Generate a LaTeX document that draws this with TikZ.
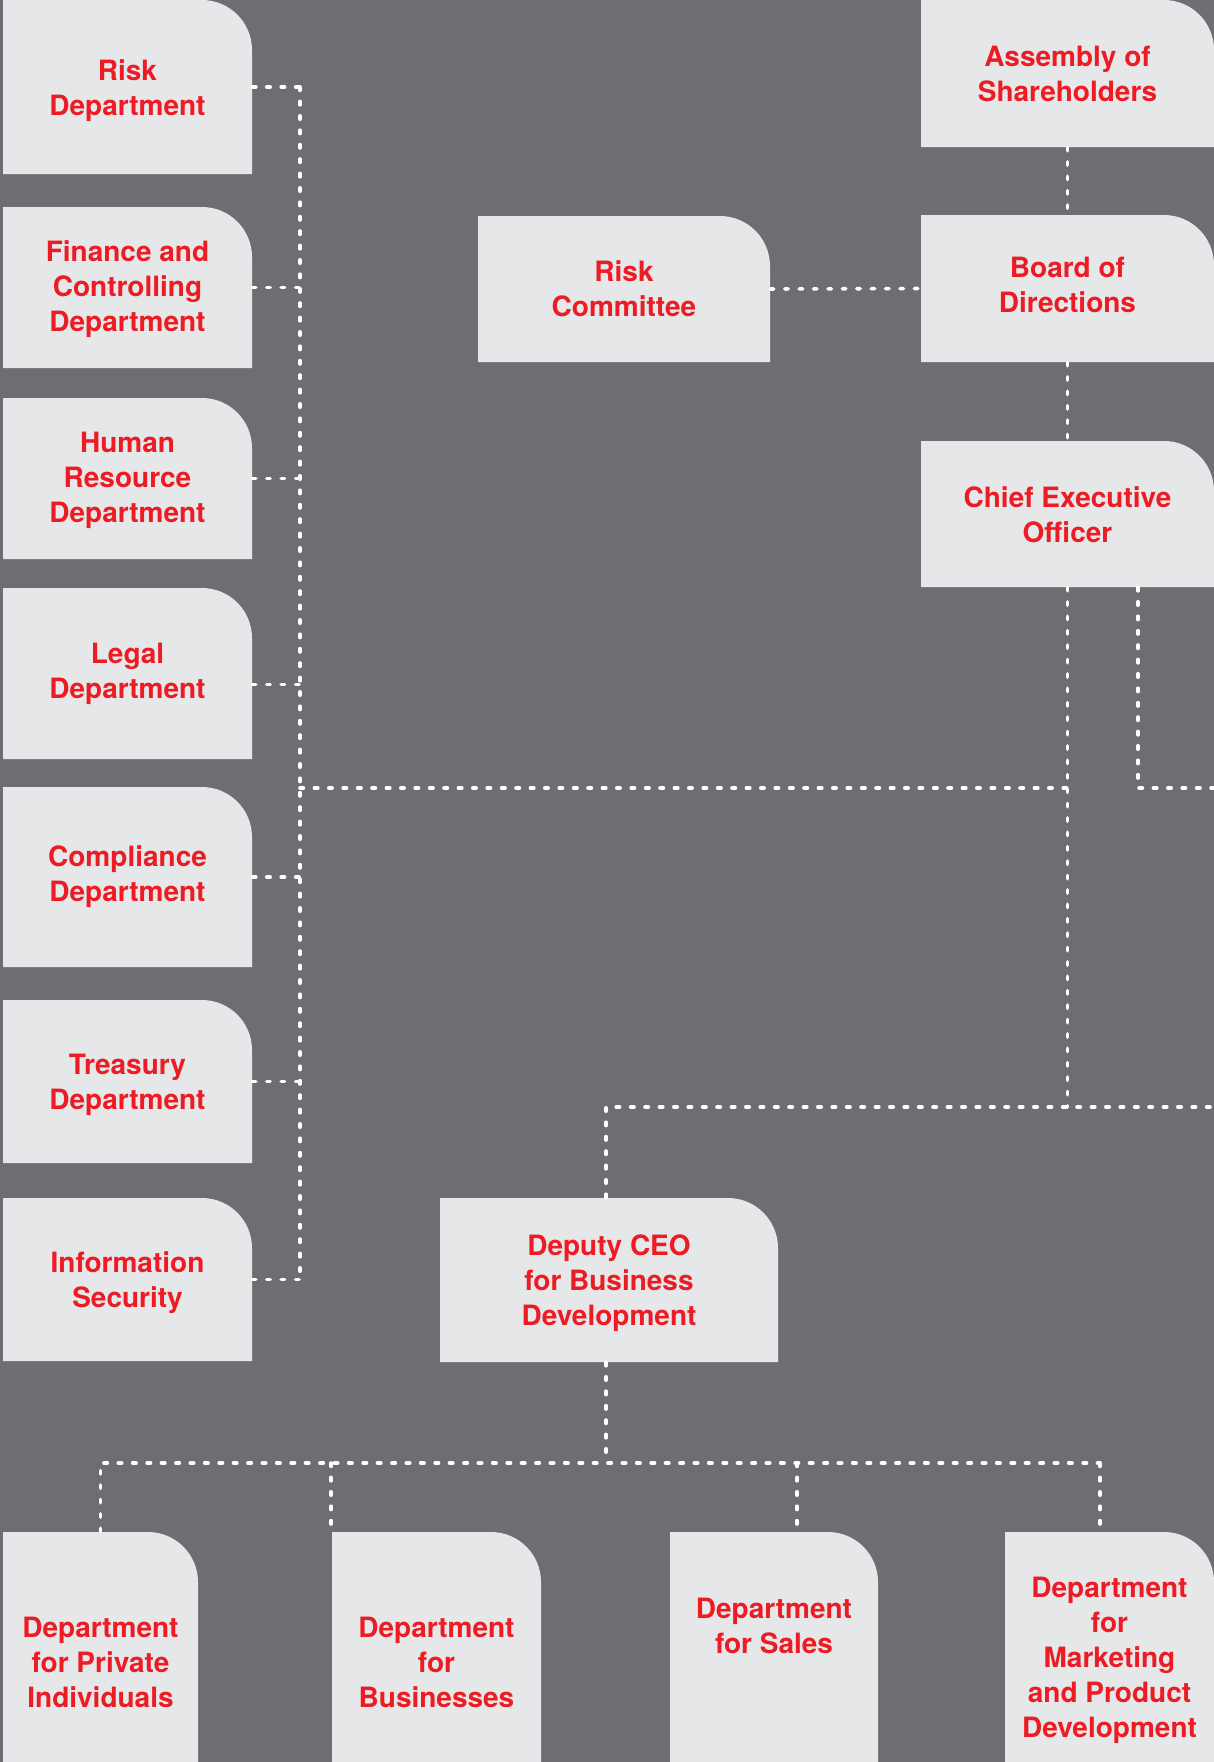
\documentclass[tikz,border=0pt]{standalone}
\usepackage{fontspec}
\setmainfont{TeX Gyre Heros}

\definecolor{bggray}{HTML}{6D6E71}
\definecolor{boxgray}{HTML}{E6E7E8}
\definecolor{deptred}{HTML}{ED1C24}
\newcommand\deptfont{\fontsize{14}{17.5}\selectfont\bfseries}

\begin{document}
\begin{tikzpicture}[x=0.5pt,y=-0.5pt,
  area/.style={rectangle, inner sep=0pt},
  orgtext/.style={text=deptred, font=\deptfont, align=center, inner sep=0pt},
  link/.style={draw=white, line width=1.8pt, line cap=round,
    dash pattern=on 1.7pt off 5.5pt}]

  \newcommand\orgbox[7][0pt]{%
    \fill[boxgray] (#3,#4) -- ({#5-50},#4)
      arc[start angle=90,end angle=0,radius=25pt] -- (#5,#6) -- (#3,#6) -- cycle;
    \pgfmathsetmacro\bw{(#5-#3)/2}
    \pgfmathsetmacro\bh{(#6-#4)/2}
    \node[area, minimum width=\bw pt, minimum height=\bh pt]
      (#2) at ({(#3+#5)/2},{(#4+#6)/2}) {};
    \node[orgtext] (#2-t) at ([yshift=#1]#2.center) {#7};
  }

  \useasboundingbox (0,0) rectangle (1214,1762);
  \fill[bggray] (0,0) rectangle (1214,1762);

  %% left column
  \orgbox[-1.6pt]{risk}{3}{0}{252}{174}{Risk\\Department}
  \orgbox[-0.8pt]{finance}{3}{207}{252}{368}{Finance and\\Controlling\\Department}
  \orgbox[-0.8pt]{hr}{3}{398}{252}{559}{Human\\Resource\\Department}
  \orgbox{legal}{3}{588}{252}{759}{Legal\\Department}
  \orgbox{compliance}{3}{787}{252}{967}{Compliance\\Department}
  \orgbox[-1.6pt]{treasury}{3}{1000}{252}{1163}{Treasury\\Department}
  \orgbox[-1.6pt]{infosec}{3}{1198}{252}{1361}{Information\\Security}

  %% top right
  \orgbox{committee}{478}{216}{770}{362}{Risk\\Committee}
  \orgbox{assembly}{921}{0}{1214}{147}{Assembly of\\Shareholders}
  \orgbox[1.6pt]{board}{921}{215}{1214}{362}{Board of\\Directions}
  \orgbox[-0.5pt]{ceo}{921}{441}{1214}{587}{Chief Executive\\Officer}
  \orgbox[-1.6pt]{deputy}{440}{1198}{778}{1362}{Deputy CEO\\for Business\\Development}

  %% bottom row
  \orgbox[-7.5pt]{private}{3}{1532}{198}{1762}{Department\\for Private\\Individuals}
  \orgbox[-7.5pt]{businesses}{332}{1532}{541}{1762}{Department\\for\\Businesses}
  \orgbox[10.5pt]{sales}{670}{1532}{878}{1762}{Department\\for Sales}
  \orgbox[-6.8pt]{marketing}{1005}{1532}{1214}{1762}{Department\\for\\Marketing\\and Product\\Development}

  \coordinate (bus) at (300,0);
  \coordinate (side) at (1138,0);
  \coordinate (rim) at (1214,0);
  \coordinate (mid) at (0,788);
  \coordinate (low) at (0,1107);
  \coordinate (fork) at (0,1463);
  \coordinate (stem) at (606,0);
  \coordinate (dropb) at (331,0);
  \coordinate (drops) at (797,0);
  \coordinate (dropm) at (1100,0);

  %% staff departments -> bus
  \draw[link] (risk.east -| bus) -- (infosec.east -| bus);
  \foreach \d in {risk,finance,hr,compliance,treasury,infosec}
    \draw[link] (\d.east) -- (\d.east -| bus);
  \draw[link] ([yshift=-5.5pt]legal.east) -- ([yshift=-5.5pt]legal.east -| bus);

  \draw[link] (committee.east) -- (board.west);
  \draw[link] (assembly.south) -- (board.north);
  \draw[link] (board.south) -- (ceo.north);

  %% ceo -> bus, deputy
  \draw[link] (ceo.south) -- (low -| ceo.south);
  \draw[link] (mid -| bus) -- (mid -| ceo.south);
  \draw[link] (ceo.south -| side) -- (mid -| side) -- (mid -| rim);
  \draw[link] (stem |- deputy.north) -- (low -| stem) -- (low -| rim);

  %% deputy -> departments
  \draw[link] (stem |- deputy.south) -- (fork -| stem);
  \draw[link] (private.north) -- (fork -| private.north) -- (fork -| dropm);
  \draw[link] (fork -| dropb) -- (dropb |- businesses.north);
  \draw[link] (fork -| drops) -- (drops |- sales.north);
  \draw[link] (fork -| dropm) -- (dropm |- marketing.north);

\end{tikzpicture}
\end{document}
